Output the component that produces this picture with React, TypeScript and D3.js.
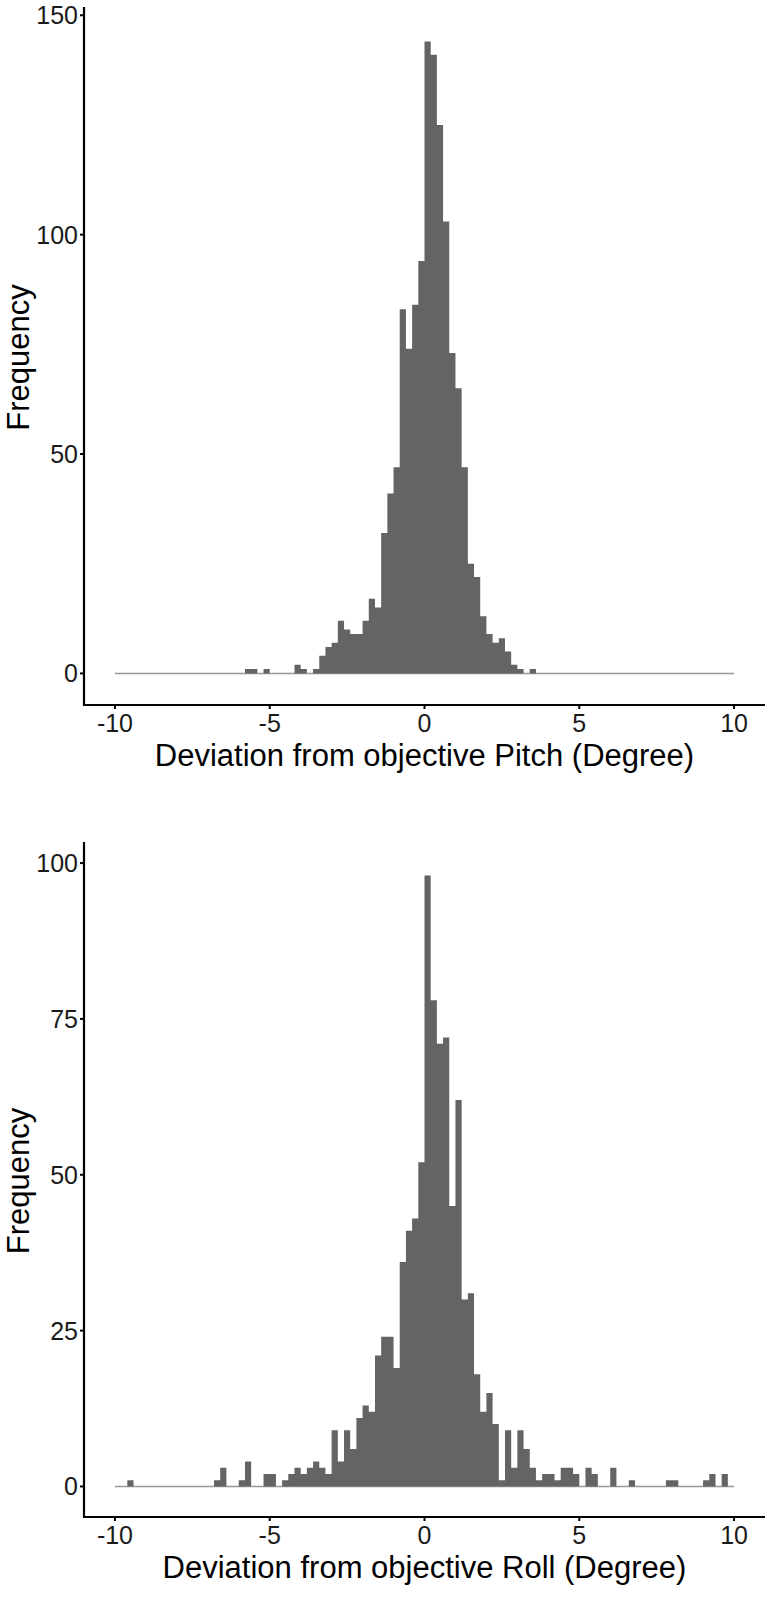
import React from "react";
import * as d3 from "d3";

// ---- data ----
const BIN_START = -10;
const BIN_WIDTH = 0.2;
const X_TICKS = [-10, -5, 0, 5, 10];
const PITCH_Y_TICKS = [0, 50, 100, 150];
const ROLL_Y_TICKS = [0, 25, 50, 75, 100];
const PITCH_TITLE = "Deviation from objective Pitch (Degree)";
const ROLL_TITLE = "Deviation from objective Roll (Degree)";
const Y_TITLE = "Frequency";

// counts per 0.2-wide bin from -10 to 10 (100 bins)
const PITCH_COUNTS = [
  0, 0, 0, 0, 0, 0, 0, 0, 0, 0,
  0, 0, 0, 0, 0, 0, 0, 0, 0, 0,
  0, 1, 1, 0, 1, 0, 0, 0, 0, 2,
  1, 0, 1, 4, 6, 7, 12, 10, 9, 9,
  12, 17, 15, 32, 41, 47, 83, 74, 84, 94,
  144, 141, 125, 103, 73, 65, 47, 25, 22, 13,
  9, 7, 8, 5, 2, 1, 0, 1, 0, 0,
  0, 0, 0, 0, 0, 0, 0, 0, 0, 0,
  0, 0, 0, 0, 0, 0, 0, 0, 0, 0,
  0, 0, 0, 0, 0, 0, 0, 0, 0, 0,
];

const ROLL_COUNTS = [
  0, 0, 1, 0, 0, 0, 0, 0, 0, 0,
  0, 0, 0, 0, 0, 0, 1, 3, 0, 0,
  1, 4, 0, 0, 2, 2, 0, 1, 2, 3,
  2, 3, 4, 3, 2, 9, 4, 9, 6, 11,
  13, 12, 21, 24, 24, 19, 36, 41, 43, 52,
  98, 78, 71, 72, 45, 62, 30, 31, 18, 12,
  15, 10, 1, 9, 3, 9, 6, 3, 1, 2,
  2, 1, 3, 3, 2, 0, 3, 2, 0, 0,
  3, 0, 0, 1, 0, 0, 0, 0, 0, 1,
  1, 0, 0, 0, 0, 1, 2, 0, 2, 0,
];

const FONT = "'Liberation Sans', Arial, Helvetica, sans-serif";
const BAR_FILL = "#646464";
const BASE_STROKE = "#999999";

type PanelProps = {
  counts: number[];
  yTicks: number[];
  xTitle: string;
  top: number;
  bottom: number;
};

function Panel({ counts, yTicks, xTitle, top, bottom }: PanelProps) {
  const left = 84;
  const right = 765;
  const maxC = d3.max(counts) as number;
  const pad = maxC * 0.05;
  const x = d3.scaleLinear().domain([-11, 11]).range([left, right]);
  const y = d3.scaleLinear().domain([-pad, maxC + pad]).range([bottom, top]);
  // step points: each bin's left edge with its count, plus closing right edge
  const pts: [number, number][] = counts.map((c, i) => [BIN_START + i * BIN_WIDTH, c]);
  pts.push([BIN_START + counts.length * BIN_WIDTH, counts[counts.length - 1]]);
  const area = d3
    .area<[number, number]>()
    .x((d) => x(d[0]))
    .y0(y(0))
    .y1((d) => y(d[1]))
    .curve(d3.curveStepAfter);
  const tickLen = 4;
  return (
    <g>
      {/* zero baseline of empty bins */}
      <line
        x1={x(BIN_START)}
        x2={x(BIN_START + counts.length * BIN_WIDTH)}
        y1={y(0)}
        y2={y(0)}
        stroke={BASE_STROKE}
        strokeWidth={1.5}
      />
      <path d={area(pts) || ""} fill={BAR_FILL} />
      {/* axes */}
      <line x1={left} x2={left} y1={top - 3} y2={bottom + 1} stroke="#000" strokeWidth={2.2} />
      <line x1={left - 1} x2={right} y1={bottom} y2={bottom} stroke="#000" strokeWidth={2.2} />
      {yTicks.map((t) => (
        <g key={"y" + t}>
          <line x1={left - tickLen} x2={left} y1={y(t)} y2={y(t)} stroke="#000" strokeWidth={2} />
          <text
            x={left - tickLen - 2}
            y={y(t)}
            dy="0.36em"
            textAnchor="end"
            fontSize={25}
            fontFamily={FONT}
            fill="#1a1a1a"
          >
            {t}
          </text>
        </g>
      ))}
      {X_TICKS.map((t) => (
        <g key={"x" + t}>
          <line x1={x(t)} x2={x(t)} y1={bottom} y2={bottom + tickLen} stroke="#000" strokeWidth={2} />
          <text
            x={x(t)}
            y={bottom + tickLen + 23}
            textAnchor="middle"
            fontSize={25}
            fontFamily={FONT}
            fill="#1a1a1a"
          >
            {t}
          </text>
        </g>
      ))}
      <text
        x={(left + right) / 2}
        y={bottom + 61}
        textAnchor="middle"
        fontSize={31}
        fontFamily={FONT}
        fill="#000"
      >
        {xTitle}
      </text>
      <text
        transform={`translate(29, ${(top + bottom) / 2}) rotate(-90)`}
        textAnchor="middle"
        fontSize={31}
        fontFamily={FONT}
        fill="#000"
      >
        {Y_TITLE}
      </text>
    </g>
  );
}

export default function App() {
  return (
    <svg
      width={768}
      height={1615}
      style={{ position: "absolute", left: 0, top: 0, background: "#fff" }}
    >
      <rect width={768} height={1615} fill="#fff" />
      <Panel counts={PITCH_COUNTS} yTicks={PITCH_Y_TICKS} xTitle={PITCH_TITLE} top={10} bottom={705} />
      <Panel counts={ROLL_COUNTS} yTicks={ROLL_Y_TICKS} xTitle={ROLL_TITLE} top={845} bottom={1517} />
    </svg>
  );
}
